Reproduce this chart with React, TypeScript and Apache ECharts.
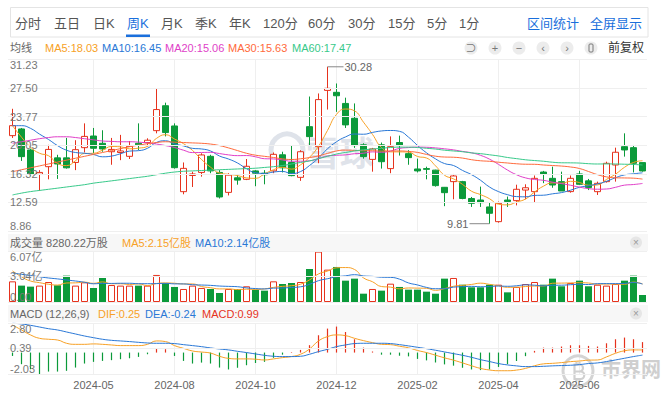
import React, { useEffect, useRef } from 'react';
import * as echarts from 'echarts';

// ---------- data ----------
const dates = [
  '2024-03-29','2024-04-05','2024-04-12','2024-04-19','2024-04-26','2024-05-03','2024-05-10','2024-05-17','2024-05-24','2024-05-31',
  '2024-06-07','2024-06-14','2024-06-21','2024-06-28','2024-07-05','2024-07-12','2024-07-19','2024-07-26','2024-08-02','2024-08-09',
  '2024-08-16','2024-08-23','2024-08-30','2024-09-06','2024-09-13','2024-09-20','2024-09-27','2024-10-04','2024-10-11','2024-10-18',
  '2024-10-25','2024-11-01','2024-11-08','2024-11-15','2024-11-22','2024-11-29','2024-12-06','2024-12-13','2024-12-20','2024-12-27',
  '2025-01-03','2025-01-10','2025-01-17','2025-01-24','2025-01-31','2025-02-07','2025-02-14','2025-02-21','2025-02-28','2025-03-07',
  '2025-03-14','2025-03-21','2025-03-28','2025-04-04','2025-04-11','2025-04-18','2025-04-25','2025-05-02','2025-05-09','2025-05-16',
  '2025-05-23','2025-05-30','2025-06-06','2025-06-13','2025-06-20','2025-06-27','2025-07-04','2025-07-11','2025-07-18','2025-07-25',
  '2025-08-01'
];

const opens = [
  21.3, 22.17, 19.43, 16.26, 17.25, 18.4, 18.4, 17.8, 19.73, 21.25,
  20.3, 19.2, 19.1, 18.6, 20.3, 20.4, 21.95, 25.2, 22.56, 13.99,
  16.1, 16.5, 18.6, 16.5, 13.9, 15.8, 15.6, 16.7, 16.4, 16.7,
  18.8, 17.8, 15.86, 22.47, 19.86, 27.2, 26.95, 25.5, 23.56, 20.1,
  18.2, 20.1, 17.0, 20.4, 18.95, 16.95, 17.0, 16.8, 14.56, 15.3,
  15.3, 13.1, 12.9, 12.0, 10.08, 12.9, 12.82, 14.2, 13.99, 16.55,
  15.73, 15.3, 14.0, 16.3, 15.4, 13.99, 15.3, 17.47, 19.86, 19.73,
  17.78
];
const closes = [
  22.6, 18.56, 16.25, 16.5, 19.5, 17.6, 17.1, 19.47, 21.2, 19.65,
  19.56, 19.5, 19.3, 19.9, 20.1, 20.7, 24.7, 21.7, 17.12, 17.03,
  16.3, 18.78, 16.7, 13.3, 16.15, 15.5, 17.3, 16.4, 16.2, 18.86,
  17.1, 16.08, 19.2, 21.17, 26.0, 27.47, 26.5, 22.7, 20.0, 18.56,
  19.56, 17.9, 19.86, 20.0, 18.43, 16.7, 16.9, 14.78, 13.86, 16.04,
  13.1, 12.47, 12.56, 11.17, 12.47, 12.7, 14.3, 14.5, 15.73, 16.3,
  14.86, 14.08, 15.73, 14.95, 14.52, 15.08, 17.69, 19.13, 19.43, 17.69,
  16.69
];
const lows = [
  21.0, 18.0, 16.1, 14.1, 15.6, 15.65, 17.0, 16.8, 19.1, 19.0,
  19.2, 17.5, 18.1, 18.25, 19.4, 19.9, 21.6, 21.2, 17.0, 13.65,
  14.6, 15.95, 16.4, 13.1, 13.5, 14.9, 15.5, 14.7, 14.95, 16.4,
  16.5, 16.0, 15.4, 20.0, 17.7, 24.7, 24.4, 22.3, 19.7, 18.3,
  16.6, 17.0, 16.4, 18.7, 17.5, 16.5, 15.6, 14.65, 12.1, 13.0,
  13.0, 12.0, 12.0, 9.81, 9.95, 12.0, 12.2, 13.0, 12.55, 15.1,
  14.5, 14.08, 13.86, 14.86, 14.2, 13.56, 15.17, 15.3, 18.56, 16.5,
  16.6
];
const highs = [
  24.8, 22.3, 19.6, 16.8, 20.1, 18.8, 21.0, 20.7, 22.9, 22.3,
  22.0, 21.0, 21.4, 20.6, 22.9, 20.95, 27.4, 25.6, 22.9, 17.8,
  16.6, 19.0, 18.8, 16.8, 16.4, 16.15, 18.25, 16.8, 16.8, 19.1,
  19.2, 20.0, 19.4, 26.4, 26.8, 30.28, 28.1, 26.25, 25.5, 20.3,
  19.7, 20.4, 21.2, 21.3, 19.4, 18.3, 17.25, 16.85, 14.6, 16.3,
  15.4, 13.3, 14.65, 12.55, 12.7, 13.35, 14.9, 14.95, 16.1, 16.7,
  17.25, 16.6, 16.1, 16.7, 15.65, 15.3, 17.9, 19.73, 21.6, 20.08,
  17.78
];

const ma5 = [
  22.6, 21.1, 19.8, 19.0, 18.68, 17.68, 17.39, 18.03, 18.97, 19.0,
  19.4, 19.88, 19.84, 19.58, 19.67, 19.9, 20.94, 21.42, 20.86, 20.25,
  19.37, 18.19, 17.19, 16.42, 16.25, 16.09, 15.79, 15.73, 16.31, 16.85,
  17.17, 16.93, 17.49, 18.48, 19.91, 21.98, 24.07, 24.77, 24.53, 23.05,
  21.46, 19.74, 19.18, 19.18, 19.15, 18.58, 18.38, 17.36, 16.13, 15.66,
  14.94, 14.05, 13.61, 13.07, 12.35, 12.27, 12.64, 13.03, 13.94, 14.71,
  15.14, 15.09, 15.34, 15.18, 14.83, 14.87, 15.59, 16.27, 17.17, 17.8,
  18.03
];
const ma10 = [
  22.6, 22.6, 22.25, 21.5, 20.8, 20.0, 19.4, 19.1, 19.0, 18.84,
  18.54, 18.63, 18.94, 19.28, 19.34, 19.65, 20.41, 20.63, 20.22, 19.96,
  19.64, 19.56, 19.3, 18.64, 18.25, 17.73, 16.99, 16.46, 16.37, 16.55,
  16.63, 16.36, 16.61, 17.4, 18.38, 19.58, 20.5, 21.13, 21.51, 21.48,
  21.72, 21.91, 21.97, 21.86, 21.1, 20.02, 19.06, 18.27, 17.66, 17.4,
  16.76, 16.21, 15.48, 14.6, 14.0, 13.6, 13.35, 13.32, 13.5, 13.53,
  13.71, 13.87, 14.18, 14.56, 14.77, 15.0, 15.34, 15.81, 16.18, 16.32,
  16.45
];
const ma20 = [
  20.3, 20.5, 20.7, 20.9, 21.05, 21.15, 21.15, 21.05, 20.9, 20.75,
  20.6, 20.55, 20.5, 20.5, 20.45, 20.35, 20.2, 20.0, 19.75, 19.4,
  19.09, 19.1, 19.12, 18.96, 18.79, 18.69, 18.7, 18.54, 18.29, 18.26,
  18.13, 17.96, 17.96, 18.02, 18.31, 18.65, 18.74, 18.79, 18.94, 19.01,
  19.18, 19.13, 19.29, 19.63, 19.74, 19.8, 19.78, 19.7, 19.58, 19.44,
  19.24, 19.06, 18.73, 18.23, 17.55, 16.81, 16.2, 15.79, 15.58, 15.47,
  15.23, 15.04, 14.83, 14.58, 14.39, 14.31, 14.34, 14.56, 14.84, 14.92,
  15.06
];
const ma30 = [
  16.6, 16.85, 17.1, 17.35, 17.6, 17.85, 18.1, 18.35, 18.6, 18.85,
  19.1, 19.35, 19.6, 19.85, 20.05, 20.25, 20.4, 20.5, 20.45, 20.4,
  20.35, 20.3, 20.2, 20.0, 19.7, 19.35, 19.0, 18.75, 18.6, 18.45,
  18.27, 18.19, 18.28, 18.44, 18.66, 18.98, 19.3, 19.41, 19.37, 19.33,
  19.33, 19.28, 19.29, 19.3, 19.24, 19.11, 18.85, 18.62, 18.51, 18.48,
  18.37, 18.16, 18.02, 17.95, 17.83, 17.73, 17.63, 17.57, 17.56, 17.47,
  17.4, 17.33, 17.21, 17.01, 16.62, 16.21, 15.92, 15.8, 15.78, 15.75,
  15.63
];
const ma60 = [
  13.56, 13.8, 14.0, 14.15, 14.3, 14.45, 14.6, 14.75, 14.9, 15.1,
  15.25, 15.4, 15.55, 15.7, 15.85, 16.0, 16.2, 16.4, 16.55, 16.65,
  16.7, 16.75, 16.8, 16.85, 16.9, 16.95, 17.0, 17.05, 17.15, 17.25,
  17.4, 17.6, 17.8, 18.0, 18.3, 18.6, 18.9, 19.1, 19.3, 19.45,
  19.55, 19.65, 19.75, 19.8, 19.8, 19.75, 19.65, 19.55, 19.4, 19.3,
  19.2, 19.05, 18.95, 18.8, 18.65, 18.45, 18.3, 18.15, 18.05, 17.96,
  17.83, 17.76, 17.75, 17.72, 17.64, 17.6, 17.61, 17.6, 17.57, 17.54,
  17.47
];

// volume in 亿股
const volumes = [
  2.46, 1.95, 1.83, 1.95, 2.38, 1.99, 3.14, 1.95, 2.34, 1.67,
  2.86, 2.02, 1.95, 1.95, 1.95, 1.95, 3.22, 2.26, 1.79, 1.55,
  1.95, 1.67, 1.55, 1.07, 1.55, 1.55, 1.87, 1.47, 1.35, 2.46,
  2.14, 2.26, 2.38, 3.93, 6.0, 3.85, 4.17, 2.54, 2.78, 0.99,
  1.55, 1.35, 2.18, 1.79, 1.47, 1.47, 1.23, 0.99, 2.78, 2.86,
  2.06, 1.75, 1.75, 2.06, 2.06, 1.15, 1.79, 2.14, 2.38, 2.06,
  2.78, 1.87, 2.26, 2.54, 1.87, 2.06, 1.95, 2.14, 2.54, 3.14,
  0.83
];
const volMa5 = [
  3.7, 3.0, 2.5, 2.3, 2.11, 2.02, 2.26, 2.28, 2.36, 2.22,
  2.39, 2.17, 2.17, 2.09, 2.15, 1.96, 2.2, 2.27, 2.23, 2.15,
  2.15, 1.84, 1.7, 1.56, 1.56, 1.48, 1.52, 1.5, 1.56, 1.74,
  1.86, 1.94, 2.12, 2.63, 3.34, 3.68, 4.07, 4.1, 3.87, 2.87,
  2.41, 1.84, 1.77, 1.57, 1.67, 1.65, 1.63, 1.39, 1.59, 1.87,
  1.98, 2.09, 2.24, 2.1, 1.94, 1.75, 1.76, 1.84, 1.9, 1.9,
  2.23, 2.25, 2.27, 2.3, 2.26, 2.12, 2.14, 2.11, 2.11, 2.37,
  2.15
];
const volMa10 = [
  3.45, 3.3, 3.15, 3.0, 2.86, 2.75, 2.62, 2.5, 2.35, 2.17,
  2.21, 2.21, 2.23, 2.23, 2.18, 2.18, 2.19, 2.22, 2.16, 2.15,
  2.06, 2.02, 1.98, 1.9, 1.86, 1.82, 1.68, 1.6, 1.56, 1.65,
  1.67, 1.73, 1.81, 2.1, 2.54, 2.77, 3.0, 3.11, 3.25, 3.1,
  3.05, 2.95, 2.93, 2.72, 2.27, 2.03, 1.74, 1.58, 1.58, 1.77,
  1.82, 1.86, 1.82, 1.84, 1.9, 1.87, 1.93, 2.04, 2.0, 1.92,
  1.99, 2.0, 2.06, 2.1, 2.08, 2.18, 2.19, 2.19, 2.21, 2.32,
  2.14
];

const dif = [
  2.61, 2.14, 1.67, 1.35, 1.26, 1.19, 0.88, 0.78, 0.78, 0.82,
  0.78, 0.72, 0.66, 0.66, 0.66, 0.78, 1.1, 1.04, 0.66, 0.4,
  0.15, 0.05, -0.05, -0.35, -0.55, -0.6, -0.6, -0.63, -0.7, -0.6,
  -0.48, -0.38, -0.16, 0.34, 1.1, 1.51, 1.67, 1.6, 1.35, 1.13,
  0.94, 0.78, 0.75, 0.6, 0.45, 0.2, 0.0, -0.25, -0.5, -0.72,
  -0.98, -1.25, -1.5, -1.65, -1.72, -1.72, -1.66, -1.5, -1.25, -1.07,
  -1.02, -0.95, -0.86, -0.8, -0.72, -0.7, -0.41, -0.07, 0.17, 0.25,
  0.25
];
const dea = [
  2.78, 2.71, 2.58, 2.42, 2.26, 2.14, 1.95, 1.76, 1.57, 1.41,
  1.26, 1.16, 1.1, 1.04, 0.97, 0.91, 0.88, 0.88, 0.85, 0.75,
  0.66, 0.56, 0.44, 0.34, 0.25, 0.12, 0.0, -0.13, -0.26, -0.35,
  -0.38, -0.38, -0.35, -0.16, 0.09, 0.31, 0.56, 0.72, 0.85, 0.88,
  0.88, 0.88, 0.85, 0.75, 0.63, 0.5, 0.37, 0.22, 0.06, -0.1,
  -0.26, -0.45, -0.67, -0.85, -1.04, -1.17, -1.26, -1.33, -1.33, -1.3,
  -1.26, -1.23, -1.2, -1.14, -1.04, -0.98, -0.85, -0.7, -0.54, -0.38,
  -0.24
];
const macdHist = [
  -0.32, -1.1, -1.58, -2.03, -1.8, -1.8, -1.73, -1.42, -1.04, -0.88,
  -0.79, -0.72, -0.63, -0.54, -0.41, -0.16, 0.41, 0.32, -0.32, -0.79,
  -1.04, -0.95, -1.04, -1.42, -1.6, -1.44, -1.2, -1.0, -0.88, -0.5,
  -0.2, 0.05, 0.25, 0.7, 1.64, 2.27, 2.46, 1.95, 1.26, 0.47,
  0.1, -0.2, -0.2, -0.3, -0.36, -0.6, -0.74, -0.94, -1.12, -1.24,
  -1.44, -1.6, -1.66, -1.6, -1.36, -1.1, -0.8, -0.34, 0.16, 0.47,
  0.47, 0.57, 0.69, 0.69, 0.63, 0.57, 0.88, 1.26, 1.42, 1.26,
  0.99
];

const priceTicks = [8.86, 12.59, 16.32, 20.05, 23.77, 27.5, 31.23];
const volTicks = [0, 3.04, 6.07];
const macdTicks = [-2.03, 0.39, 2.8];

const tabs = ['分时', '五日', '日K', '周K', '月K', '季K', '年K', '120分', '60分', '30分', '15分', '5分', '1分'];
const tabX = [15, 54, 93, 127, 161, 195, 229, 263, 308, 348, 388, 427, 459];
const activeTab = '周K';

// ---------- styles ----------
const FONT = "'Liberation Sans', Arial, 'Noto Sans CJK SC', sans-serif";
const RED = '#e6321d';
const GREEN = '#0b9a3a';
const C_MA5 = '#f7a126';
const C_MA10 = '#2a78d6';
const C_MA20 = '#e03fc8';
const C_MA30 = '#ff6a3c';
const C_MA60 = '#38c98a';
const GRIDLINE = '#efefef';
const LABEL = '#777';

const GL = 8;
const GR = 23;
const showIdx = (i: number) => i > 0 && i % 9 === 0;

// watermark coin logo (drawn as a path so it is not text)
echarts.graphic.registerShape(
  'coinB',
  (echarts.graphic as any).extendPath(
    'M7 4 L12 4 A3.5 3.5 0 0 1 12 11 L7 11 Z M7 11 L13 11 A3.75 3.75 0 0 1 13 18.5 L7 18.5 Z M9 1.5 L9 4 M12 1.5 L12 4 M9 18.5 L9 21 M12 18.5 L12 21',
    {}
  )
);

function txt(x: number, y: number, text: string, fill: string, size = 11, align = 'left', extra: any = {}) {
  return {
    type: 'text',
    x,
    y,
    silent: true,
    z: 20,
    style: {
      text,
      fill,
      fontSize: size,
      fontFamily: FONT,
      align,
      verticalAlign: 'middle',
      textAlign: align,
      textVerticalAlign: 'middle',
      ...extra,
    },
  };
}

function buildOption() {
  const up = (i: number) => closes[i] >= opens[i];
  const xAxisBase = (gi: number) => ({
    type: 'category',
    gridIndex: gi,
    data: dates,
    boundaryGap: true,
    axisLine: { show: false },
    axisTick: { show: false },
    axisLabel: {
      show: gi === 2,
      interval: (i: number) => showIdx(i),
      formatter: (v: string) => v.slice(0, 7),
      color: '#666',
      fontSize: 11,
      fontFamily: FONT,
      margin: 5,
    },
    splitLine: {
      show: true,
      interval: (i: number) => showIdx(i),
      alignWithLabel: true,
      lineStyle: { color: GRIDLINE, width: 1 },
    },
  });
  const yAxisBase = (gi: number, min: number, max: number, ticks: number[], fmt: (v: number) => string) => ({
    type: 'value',
    gridIndex: gi,
    min,
    max,
    z: 10,
    axisLine: { show: false },
    axisTick: { show: false, customValues: ticks },
    axisLabel: {
      inside: true,
      customValues: ticks,
      formatter: fmt,
      color: LABEL,
      fontSize: 11,
      fontFamily: FONT,
      margin: 2,
      verticalAlignMinLabel: 'bottom',
      verticalAlignMaxLabel: 'top',
    },
    splitLine: { show: true, lineStyle: { color: GRIDLINE, width: 1 } },
  });
  const line = (name: string, data: number[], color: string, xi: number) => ({
    name,
    type: 'line',
    xAxisIndex: xi,
    yAxisIndex: xi,
    data,
    smooth: true,
    symbol: 'none',
    lineStyle: { color, width: 1 },
    itemStyle: { color },
    silent: true,
    z: 4,
  });

  return {
    animation: false,
    backgroundColor: '#fff',
    grid: [
      { left: GL, right: GR, top: 59.5, height: 171.5 },
      { left: GL, right: GR, top: 251, height: 51 },
      { left: GL, right: GR, top: 323, height: 51 },
    ],
    xAxis: [xAxisBase(0), xAxisBase(1), xAxisBase(2)],
    yAxis: [
      yAxisBase(0, 8.86, 31.23, priceTicks, (v) => v.toFixed(2)),
      yAxisBase(1, 0, 6.07, volTicks, (v) => (v === 0 ? '0.00' : v.toFixed(2) + '亿')),
      yAxisBase(2, -2.03, 2.8, macdTicks, (v) => v.toFixed(2)),
    ],
    series: [
      {
        name: 'K',
        type: 'candlestick',
        xAxisIndex: 0,
        yAxisIndex: 0,
        barWidth: 7,
        data: dates.map((_, i) => [opens[i], closes[i], lows[i], highs[i]]),
        itemStyle: {
          color: '#ffffff',
          color0: GREEN,
          borderColor: RED,
          borderColor0: GREEN,
          borderWidth: 1,
        },
        z: 3,
      },
      line('MA5', ma5, C_MA5, 0),
      line('MA10', ma10, C_MA10, 0),
      line('MA20', ma20, C_MA20, 0),
      line('MA30', ma30, C_MA30, 0),
      line('MA60', ma60, C_MA60, 0),
      {
        name: 'VOL',
        type: 'bar',
        xAxisIndex: 1,
        yAxisIndex: 1,
        barWidth: 7,
        data: volumes.map((v, i) => ({
          value: v,
          itemStyle: up(i)
            ? { color: '#ffffff', borderColor: RED, borderWidth: 1 }
            : { color: GREEN, borderColor: GREEN, borderWidth: 0 },
        })),
        z: 3,
      },
      line('VMA5', volMa5, C_MA5, 1),
      line('VMA10', volMa10, C_MA10, 1),
      {
        name: 'MACD',
        type: 'bar',
        xAxisIndex: 2,
        yAxisIndex: 2,
        barWidth: 1.2,
        data: macdHist.map((v) => ({ value: v, itemStyle: { color: v >= 0 ? RED : GREEN } })),
        z: 3,
      },
      line('DIF', dif, C_MA5, 2),
      line('DEA', dea, C_MA10, 2),
    ],
  };
}

function buildGraphics(hx: number, hy: number, lx: number, ly: number) {
  const g: any[] = [];
  // tab bar
  g.push({ type: 'rect', z: 1, silent: true, shape: { x: 10.5, y: 7.5, width: 637.5, height: 29.5 }, style: { fill: '#fff', stroke: '#e4e4e4', lineWidth: 1 } });
  tabs.forEach((t, i) => {
    g.push(txt(tabX[i], 23, t, t === activeTab ? '#1a6fdc' : '#555', 13));
  });
  g.push({ type: 'rect', z: 20, silent: true, shape: { x: 126, y: 34.5, width: 24, height: 2.5 }, style: { fill: '#1a6fdc' } });
  g.push(txt(527, 23, '区间统计', '#1a6fdc', 13));
  g.push(txt(590, 23, '全屏显示', '#1a6fdc', 13));

  // price header
  g.push(txt(10, 48, '均线', '#666', 11));
  g.push(txt(45, 48, 'MA5:' + ma5[ma5.length - 1].toFixed(2), C_MA5, 11));
  g.push(txt(102, 48, 'MA10:' + ma10[ma10.length - 1].toFixed(2), C_MA10, 11));
  g.push(txt(165, 48, 'MA20:' + ma20[ma20.length - 1].toFixed(2), C_MA20, 11));
  g.push(txt(228, 48, 'MA30:' + ma30[ma30.length - 1].toFixed(2), C_MA30, 11));
  g.push(txt(292, 48, 'MA60:' + ma60[ma60.length - 1].toFixed(2), C_MA60, 11));
  const icons = ['⊃', '+', '−', '‹', '›', ''];
  icons.forEach((ic, i) => {
    const cx = 471 + i * 24;
    g.push({ type: 'circle', z: 19, silent: true, shape: { cx, cy: 48, r: 6.5 }, style: { fill: '#ececec' } });
    if (ic) g.push(txt(cx, 48, ic, '#777', 11, 'center'));
    else g.push({ type: 'rect', z: 20, silent: true, shape: { x: cx - 2, y: 44, width: 4, height: 8, r: 1 }, style: { fill: 'none', stroke: '#777', lineWidth: 1 } });
  });
  g.push(txt(608, 48, '前复权', '#333', 12));

  // volume header
  g.push({ type: 'rect', z: 1, silent: true, shape: { x: GL, y: 234, width: 640, height: 17 }, style: { fill: '#f7f7f7' } });
  g.push(txt(10, 242.5, '成交量 8280.22万股', '#666', 11));
  g.push(txt(122, 242.5, 'MA5:' + volMa5[volMa5.length - 1].toFixed(2) + '亿股', C_MA5, 11));
  g.push(txt(195, 242.5, 'MA10:' + volMa10[volMa10.length - 1].toFixed(2) + '亿股', C_MA10, 11));
  g.push({ type: 'circle', z: 19, silent: true, shape: { cx: 636, cy: 242.5, r: 6 }, style: { fill: '#e6e6e6' } });
  g.push(txt(636, 242.5, '×', '#999', 10, 'center'));

  // macd header
  g.push({ type: 'rect', z: 1, silent: true, shape: { x: GL, y: 305, width: 640, height: 17 }, style: { fill: '#f7f7f7' } });
  g.push(txt(10, 313.5, 'MACD (12,26,9)', '#666', 11));
  g.push(txt(98, 313.5, 'DIF:' + dif[dif.length - 1].toFixed(2), C_MA5, 11));
  g.push(txt(145, 313.5, 'DEA:' + dea[dea.length - 1].toFixed(2), C_MA10, 11));
  g.push(txt(202, 313.5, 'MACD:' + macdHist[macdHist.length - 1].toFixed(2), RED, 11));
  g.push({ type: 'circle', z: 19, silent: true, shape: { cx: 636, cy: 313.5, r: 6 }, style: { fill: '#e6e6e6' } });
  g.push(txt(636, 313.5, '×', '#999', 10, 'center'));

  // watermarks
  g.push({ type: 'circle', z: 0, silent: true, shape: { cx: 287, cy: 150, r: 16 }, style: { fill: 'none', stroke: '#dfe3ea', lineWidth: 5 } });
  g.push({ type: 'text', z: 0, silent: true, x: 306, y: 151, style: { text: '雪球', fill: '#dfe3ea', fontSize: 34, fontWeight: 'bold', fontFamily: "'Noto Sans CJK SC', sans-serif", verticalAlign: 'middle', textVerticalAlign: 'middle' } });
  g.push({ type: 'circle', z: 0, silent: true, shape: { cx: 578, cy: 371, r: 15 }, style: { fill: 'none', stroke: '#d4d4d4', lineWidth: 3 } });
  g.push({ type: 'coinB', z: 0, silent: true, x: 567.5, y: 360.5, scaleX: 1, scaleY: 1, style: { fill: 'none', stroke: '#d0d0d0', lineWidth: 2.2 } });
  g.push({ type: 'text', z: 0, silent: true, x: 601, y: 368, style: { text: '市界网', fill: '#cfcfcf', fontSize: 20, fontWeight: 'bold', fontFamily: "'Noto Sans CJK SC', sans-serif", verticalAlign: 'middle', textVerticalAlign: 'middle' } });

  // high / low markers
  g.push({ type: 'line', z: 20, silent: true, shape: { x1: hx, y1: hy, x2: hx + 16, y2: hy }, style: { stroke: '#888', lineWidth: 1 } });
  g.push(txt(hx + 17, hy, highs.reduce((a, b) => Math.max(a, b)).toFixed(2), '#666', 11));
  g.push({ type: 'line', z: 20, silent: true, shape: { x1: lx - 20, y1: ly, x2: lx, y2: ly }, style: { stroke: '#888', lineWidth: 1 } });
  g.push(txt(lx - 21, ly, lows.reduce((a, b) => Math.min(a, b)).toFixed(2), '#666', 11, 'right'));
  return g;
}

export default function App() {
  const ref = useRef<HTMLDivElement>(null);
  useEffect(() => {
    document.body.style.margin = '0';
    const chart = echarts.init(ref.current as HTMLDivElement, null, { renderer: 'svg' });
    chart.setOption(buildOption() as any);
    const hiVal = Math.max(...highs);
    const loVal = Math.min(...lows);
    const hiIdx = highs.indexOf(hiVal);
    const loIdx = lows.indexOf(loVal);
    const hp = chart.convertToPixel({ xAxisIndex: 0, yAxisIndex: 0 } as any, [dates[hiIdx], hiVal]) as number[];
    const lp = chart.convertToPixel({ xAxisIndex: 0, yAxisIndex: 0 } as any, [dates[loIdx], loVal]) as number[];
    chart.setOption({ graphic: buildGraphics(hp[0], hp[1], lp[0], lp[1]) } as any);
    return () => chart.dispose();
  }, []);
  return <div ref={ref} style={{ position: 'fixed', left: 0, top: 0, width: 670, height: 397 }} />;
}
